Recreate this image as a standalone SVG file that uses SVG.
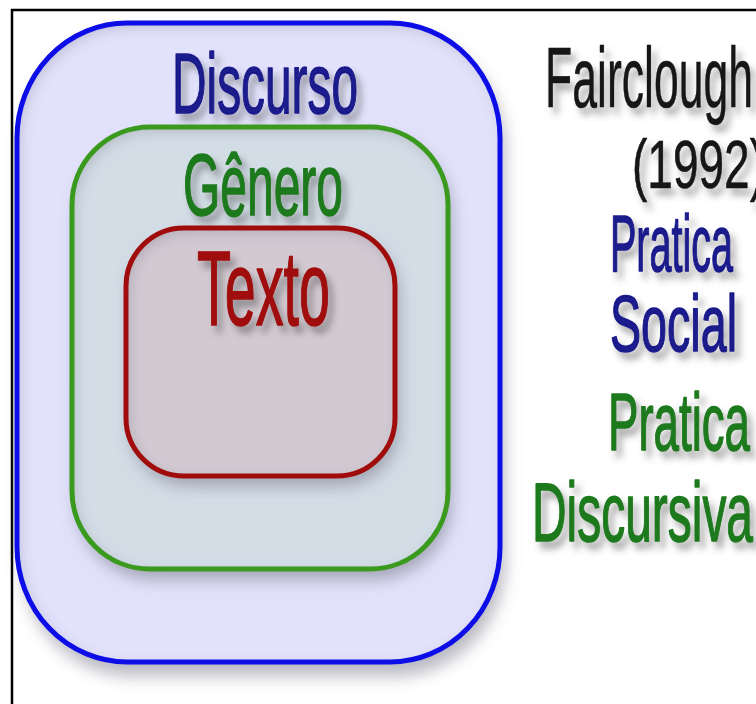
<svg xmlns="http://www.w3.org/2000/svg" width="756" height="704" viewBox="0 0 756 704">
  <style>
    .lbl { font-family: "Liberation Sans", Arial, sans-serif; filter: url(#tshadow); stroke-width: 1.5; stroke-linejoin: round; }
    .blue { fill: #1a1a8c; stroke: #1a1a8c; }
    .green { fill: #1f7a1f; stroke: #1f7a1f; }
    .red { fill: #a00808; stroke: #a00808; }
    .black { fill: #141414; stroke: #141414; stroke-width: 0.6; }
    .box { filter: url(#inner); }
    .bshadow { filter: url(#boxshadow); fill: #808090; }
  </style>
  <defs>
    <filter id="tshadow" x="-10%" y="-20%" width="130%" height="150%">
      <feGaussianBlur in="SourceAlpha" stdDeviation="3.5"/>
      <feOffset dx="5" dy="7" result="b"/>
      <feFlood flood-color="#505050" flood-opacity="0.5"/>
      <feComposite in2="b" operator="in" result="s"/>
      <feMerge><feMergeNode in="s"/><feMergeNode in="SourceGraphic"/></feMerge>
    </filter>
    <filter id="boxshadow" x="-10%" y="-10%" width="125%" height="125%">
      <feGaussianBlur stdDeviation="8"/>
    </filter>
    <filter id="inner" x="-5%" y="-5%" width="110%" height="110%">
      <feFlood flood-color="#707088" flood-opacity="0.45"/>
      <feComposite in2="SourceAlpha" operator="out"/>
      <feGaussianBlur stdDeviation="7"/>
      <feOffset dx="3" dy="4"/>
      <feComposite in2="SourceAlpha" operator="in" result="in"/>
      <feMerge><feMergeNode in="SourceGraphic"/><feMergeNode in="in"/></feMerge>
    </filter>
  </defs>

  <rect x="0" y="0" width="756" height="704" fill="#ffffff"/>
  <path d="M12 704 V10 H756" fill="none" stroke="#000" stroke-width="2.5"/>

  <g id="discurso">
    <rect class="bshadow" x="22" y="34" width="483" height="642" rx="110" ry="115" fill-opacity="0.55"/>
    <rect class="box" x="17" y="23" width="483" height="639" rx="110" ry="115" fill="#e2e2fc"/>
    <rect x="17" y="23" width="483" height="639" rx="110" ry="115" fill="none" stroke="#0d0de8" stroke-width="5"/>
    <text class="lbl blue" x="172" y="113" font-size="86" textLength="186" lengthAdjust="spacingAndGlyphs">Discurso</text>
  </g>

  <g id="genero">
    <rect class="bshadow" x="76" y="136" width="376" height="444" rx="78" fill-opacity="0.6"/>
    <rect class="box" x="72" y="127" width="376" height="442" rx="78" fill="#d3dde6"/>
    <rect x="72" y="127" width="376" height="442" rx="78" fill="none" stroke="#3a9a1e" stroke-width="5"/>
    <text class="lbl green" x="183" y="215" font-size="88" textLength="160" lengthAdjust="spacingAndGlyphs">Gênero</text>
  </g>

  <g id="texto">
    <rect class="bshadow" x="130" y="236" width="269" height="250" rx="58" fill-opacity="0.6"/>
    <rect class="box" x="126" y="228" width="269" height="248" rx="58" fill="#d2c9d1"/>
    <rect x="126" y="228" width="269" height="248" rx="58" fill="none" stroke="#a00c0c" stroke-width="5"/>
    <text class="lbl red" x="197" y="325" font-size="105" textLength="133" lengthAdjust="spacingAndGlyphs">Texto</text>
  </g>

  <g id="legend">
    <text class="lbl black" x="545" y="107" font-size="86" textLength="208" lengthAdjust="spacingAndGlyphs">Fairclough</text>
    <text class="lbl black" x="632" y="188" font-size="68" textLength="133" lengthAdjust="spacingAndGlyphs">(1992)</text>
    <text class="lbl blue" x="610" y="271" font-size="80" textLength="123" lengthAdjust="spacingAndGlyphs">Pratica</text>
    <text class="lbl blue" x="610" y="351" font-size="80" textLength="127" lengthAdjust="spacingAndGlyphs">Social</text>
    <text class="lbl green" x="608" y="450" font-size="81" textLength="142" lengthAdjust="spacingAndGlyphs">Pratica</text>
    <text class="lbl green" x="532" y="541" font-size="84" textLength="221" lengthAdjust="spacingAndGlyphs">Discursiva</text>
  </g>

  <g id="connectors"></g>
</svg>
